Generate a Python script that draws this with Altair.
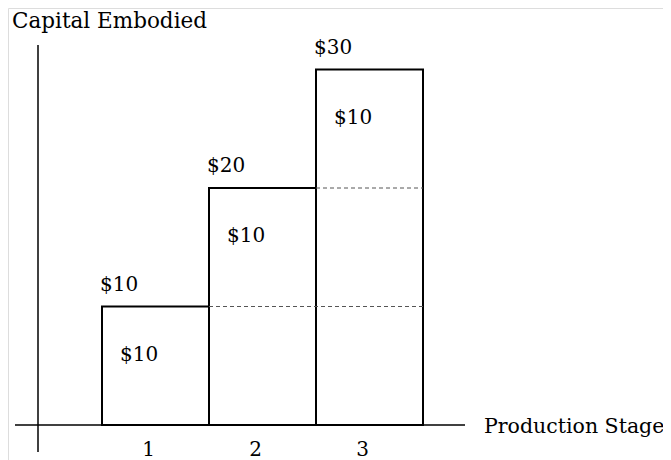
import altair as alt
import pandas as pd

stages = [1, 2, 3]
capital = [10, 20, 30]
increment = [10, 10, 10]
tick_labels = ["1", "2", "3"]
total_labels = ["$10", "$20", "$30"]
increment_labels = ["$10", "$10", "$10"]
x_title = "Production Stage"
y_title = "Capital Embodied"

FONT = "DejaVu Serif"
FS = 20

bars = pd.DataFrame({
    "x0": [s - 0.5 for s in stages],
    "x1": [s + 0.5 for s in stages],
    "xc": stages,
    "top": capital,
    "zero": [0 for _ in stages],
    "total": total_labels,
    "inc": increment_labels,
    "tick": tick_labels,
})

dash_rows = []
for j, level in enumerate(capital[:-1]):
    dash_rows.append({"x0": stages[j] + 0.5, "x1": stages[-1] + 0.5, "y": level})
dashes = pd.DataFrame(dash_rows)

# pixel geometry helpers -> data domain
ux = 107.0     # px per stage
x_zero = 48.5  # page px of stage 0
uy = 11.85     # px per $1
y_zero = 425.0 # page px of $0
W, H = 655, 452

def dx(px):
    return (px - x_zero) / ux

def dy(py):
    return (y_zero - py) / uy

xs = alt.Scale(domain=[dx(8), dx(8 + W)], nice=False, zero=False)
ys = alt.Scale(domain=[dy(8 + H), dy(8)], nice=False, zero=False)

axes = pd.DataFrame({
    "x0": [dx(15), dx(38)],
    "x1": [dx(465), dx(38)],
    "y0": [0, dy(452)],
    "y1": [0, dy(45)],
})

axis_rules = alt.Chart(axes).mark_rule(color="black", strokeWidth=1.5).encode(
    x=alt.X("x0:Q", scale=xs, axis=None),
    x2="x1:Q",
    y=alt.Y("y0:Q", scale=ys, axis=None),
    y2="y1:Q",
)

outline = alt.Chart(bars).mark_rect(fill="white", stroke="black", strokeWidth=2).encode(
    x=alt.X("x0:Q", scale=xs, axis=None),
    x2="x1:Q",
    y=alt.Y("top:Q", scale=ys, axis=None),
    y2="zero:Q",
)

dash_rules = alt.Chart(dashes).mark_rule(color="#555555", strokeWidth=1, strokeDash=[4, 3]).encode(
    x=alt.X("x0:Q", scale=xs, axis=None),
    x2="x1:Q",
    y=alt.Y("y:Q", scale=ys, axis=None),
)

total_text = alt.Chart(bars).mark_text(
    font=FONT, fontSize=FS, align="left", baseline="middle", dx=-2, dy=-22, color="black"
).encode(
    x=alt.X("x0:Q", scale=xs, axis=None),
    y=alt.Y("top:Q", scale=ys, axis=None),
    text="total:N",
)

inc_text = alt.Chart(bars).mark_text(
    font=FONT, fontSize=FS, align="left", baseline="middle", dx=18, dy=48, color="black"
).encode(
    x=alt.X("x0:Q", scale=xs, axis=None),
    y=alt.Y("top:Q", scale=ys, axis=None),
    text="inc:N",
)

tick_text = alt.Chart(bars).mark_text(
    font=FONT, fontSize=FS, align="center", baseline="middle", dx=-7, dy=25, color="black"
).encode(
    x=alt.X("xc:Q", scale=xs, axis=None),
    y=alt.Y("zero:Q", scale=ys, axis=None),
    text="tick:N",
)

ytitle_df = pd.DataFrame({"x": [dx(12)], "y": [dy(22)], "t": [y_title]})
xtitle_df = pd.DataFrame({"x": [dx(484)], "y": [dy(427)], "t": [x_title]})

ytitle_text = alt.Chart(ytitle_df).mark_text(
    font=FONT, fontSize=21.5, align="left", baseline="middle", color="black"
).encode(
    x=alt.X("x:Q", scale=xs, axis=None),
    y=alt.Y("y:Q", scale=ys, axis=None),
    text="t:N",
)

xtitle_text = alt.Chart(xtitle_df).mark_text(
    font=FONT, fontSize=20.5, align="left", baseline="middle", color="black"
).encode(
    x=alt.X("x:Q", scale=xs, axis=None),
    y=alt.Y("y:Q", scale=ys, axis=None),
    text="t:N",
)

chart = alt.layer(
    axis_rules, outline, dash_rules, total_text, inc_text, tick_text, ytitle_text, xtitle_text
).properties(
    width=W, height=H, padding=0, autosize=alt.AutoSizeParams(type="none")
).configure_view(strokeWidth=0).configure(background="white")

chart.save("out.html", embed_options={"renderer": "svg", "actions": False})
